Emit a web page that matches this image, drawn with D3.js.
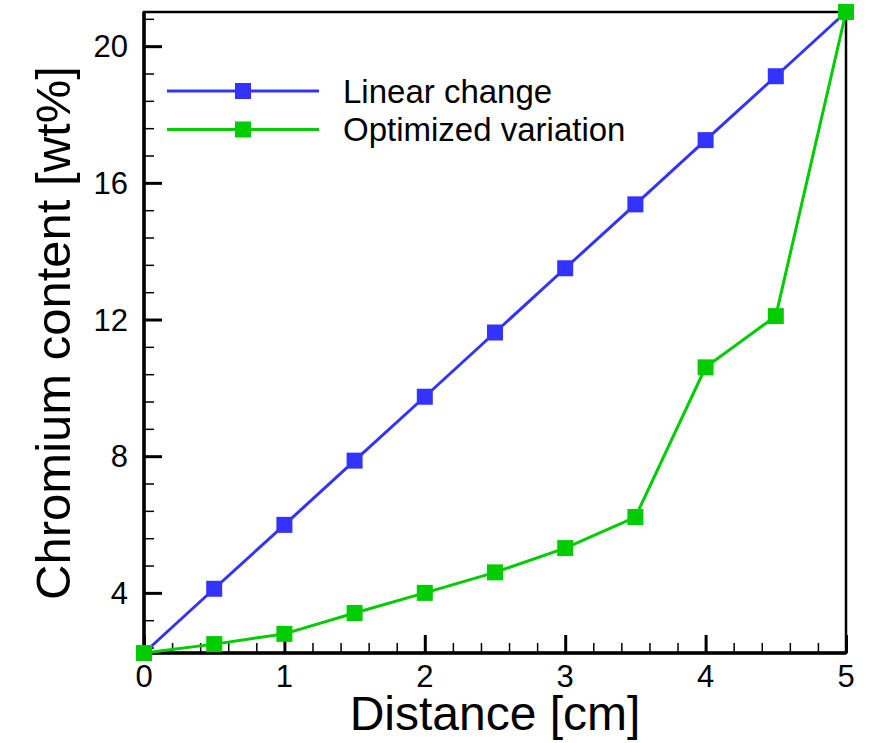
<!DOCTYPE html>
<html>
<head>
<meta charset="utf-8">
<script src="https://cdn.jsdelivr.net/npm/d3@7"></script>
<style>
  body { margin: 0; background: #fff; }
  svg { font-family: Arial, "Liberation Sans", sans-serif; }
</style>
</head>
<body>
<svg id="mainSvg" width="871" height="743"></svg>
<script>
// distance along the part [cm]
var distance = [0, 0.5, 1, 1.5, 2, 2.5, 3, 3.5, 4, 4.5, 5];
// chromium content [wt%]
var linearChange = [2.24, 4.12, 5.99, 7.87, 9.74, 11.62, 13.50, 15.37, 17.25, 19.12, 21.0];
var optimizedVariation = [2.24, 2.50, 2.80, 3.41, 4.00, 4.60, 5.31, 6.22, 10.60, 12.10, 21.0];

var seriesNames = ["Linear change", "Optimized variation"];
var seriesColors = ["#3333ff", "#00cc00"];
var xTicks = [0, 1, 2, 3, 4, 5];
var yTicks = [4, 8, 12, 16, 20];

var margin = {top: 12, right: 25, bottom: 90, left: 144},
    width = 846 - margin.left,
    height = 653 - margin.top;

var x = d3.scaleLinear().domain([0, 5]).range([0, width]);
var y = d3.scaleLinear().domain([2.24, 21]).range([height, 0]);

var svg = d3.select("#mainSvg");
var g = svg.append("g")
    .attr("transform", "translate(" + margin.left + "," + margin.top + ")");

// frame (top and right edges)
g.append("rect")
    .attr("x", 0).attr("y", 0)
    .attr("width", width).attr("height", height)
    .attr("fill", "none")
    .attr("stroke", "#000")
    .attr("stroke-width", 2.5);

// minor ticks, pointing inward
g.append("g")
    .attr("transform", "translate(0," + height + ")")
    .call(d3.axisTop(x).tickValues(d3.range(0, 5.01, 0.2)).tickSize(10).tickFormat(""))
    .call(function(a) { a.select(".domain").remove(); })
    .selectAll("line").attr("stroke-width", 1.5);

g.append("g")
    .call(d3.axisRight(y).tickValues(d3.range(2.4, 21, 0.8)).tickSize(10).tickFormat(""))
    .call(function(a) { a.select(".domain").remove(); })
    .selectAll("line").attr("stroke-width", 1.5);

// major ticks
var xAxis = g.append("g")
    .attr("transform", "translate(0," + height + ")")
    .call(d3.axisTop(x).tickValues(xTicks).tickSize(18).tickFormat(""));
xAxis.select(".domain").remove();
xAxis.selectAll("line").attr("stroke-width", 3);

var yAxis = g.append("g")
    .call(d3.axisRight(y).tickValues(yTicks).tickSize(18).tickFormat(""));
yAxis.select(".domain").remove();
yAxis.selectAll("line").attr("stroke-width", 3);

// axis lines
g.append("line").attr("x1", -1.5).attr("x2", width).attr("y1", height).attr("y2", height)
    .attr("stroke", "#000").attr("stroke-width", 3.5);
g.append("line").attr("x1", 0).attr("x2", 0).attr("y1", 0).attr("y2", height + 1.5)
    .attr("stroke", "#000").attr("stroke-width", 3.5);

// tick labels
g.selectAll(".xlab")
    .data(xTicks)
    .enter().append("text")
    .attr("x", function(d) { return x(d); })
    .attr("y", height + 34)
    .attr("text-anchor", "middle")
    .style("font-size", "31px")
    .text(function(d) { return d; });

g.selectAll(".ylab")
    .data(yTicks)
    .enter().append("text")
    .attr("x", -16)
    .attr("y", function(d) { return y(d); })
    .attr("dy", "0.36em")
    .attr("text-anchor", "end")
    .style("font-size", "31px")
    .text(function(d) { return d; });

// axis titles
svg.append("text")
    .attr("x", 495)
    .attr("y", 730)
    .attr("text-anchor", "middle")
    .style("font-size", "48px")
    .text("Distance [cm]");

svg.append("text")
    .attr("transform", "translate(70,333) rotate(-90)")
    .attr("text-anchor", "middle")
    .style("font-size", "49px")
    .text("Chromium content [wt%]");

// series
var line = d3.line()
    .x(function(d, i) { return x(distance[i]); })
    .y(function(d) { return y(d); });

[linearChange, optimizedVariation].forEach(function(values, s) {
  g.append("path")
      .datum(values)
      .attr("fill", "none")
      .attr("stroke", seriesColors[s])
      .attr("stroke-width", 3)
      .attr("d", line);

  g.selectAll(".mk" + s)
      .data(values)
      .enter().append("rect")
      .attr("x", function(d, i) { return x(distance[i]) - 8; })
      .attr("y", function(d) { return y(d) - 8; })
      .attr("width", 16)
      .attr("height", 16)
      .attr("fill", seriesColors[s]);
});

// legend
var legend = svg.append("g");
seriesNames.forEach(function(name, i) {
  var ly = 91 + i * 38.5;
  legend.append("line")
      .attr("x1", 167).attr("x2", 319)
      .attr("y1", ly).attr("y2", ly)
      .attr("stroke", seriesColors[i])
      .attr("stroke-width", 3);
  legend.append("rect")
      .attr("x", 235).attr("y", ly - 8)
      .attr("width", 16).attr("height", 16)
      .attr("fill", seriesColors[i]);
  legend.append("text")
      .attr("x", 343)
      .attr("y", ly)
      .attr("dy", "0.36em")
      .style("font-size", "33px")
      .text(name);
});
</script>
</body>
</html>
